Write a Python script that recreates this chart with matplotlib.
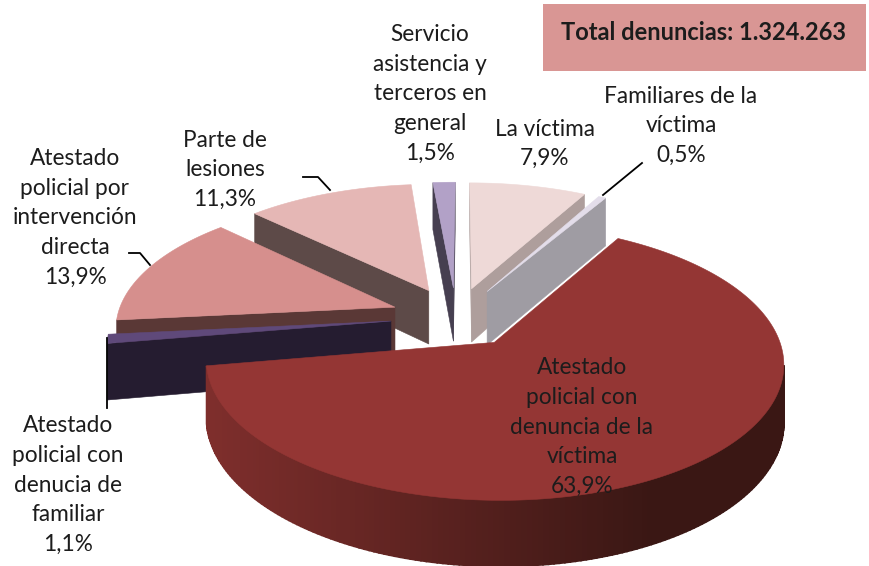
import numpy as np
import matplotlib
matplotlib.use("Agg")
import matplotlib.pyplot as plt
from matplotlib.patches import Polygon, Rectangle
from matplotlib.colors import to_rgb

plt.rcParams['font.family'] = ['Lato', 'DejaVu Sans']

# clockwise from 12 o'clock
names = ["La víctima", "Familiares de la\nvíctima",
         "Atestado\npolicial con\ndenuncia de la\nvíctima", "Atestado\npolicial con\ndenucia de\nfamiliar",
         "Atestado\npolicial por\nintervención\ndirecta", "Parte de\nlesiones",
         "Servicio\nasistencia y\nterceros en\ngeneral"]
shares = [7.9, 0.5, 63.9, 1.1, 13.9, 11.3, 1.5]
top_colors = ["#EED9D7", "#E3DDEA", "#943634", "#5F497A", "#D68F8D", "#E5B7B5", "#B2A1C7"]
side_colors = ["#AE9E9C", "#9F9CA3", "#7E2E2C", "#251C30", "#5A3836", "#5D4A48", "#463F50"]
label_x = [545, 681, 582, 68, 75, 225, 430]
label_y = [144, 126, 427, 485, 218, 170, 94]
total_text = "Total denuncias: 1.324.263"

# projection of the tilted pie, in pixels
cx, cy = 456, 317
rx, ry = 278, 128
persp = 0.14
height = 55
explode = 0.235


def project(X, Y, z=0.0):
    s = 1.0 / (1.0 + persp * np.asarray(Y))
    return cx + rx * np.asarray(X) * s, cy - ry * np.asarray(Y) * s - z * s


def area(pts):
    x, y = np.array(pts).T
    return np.sum(x * np.roll(y, -1) - np.roll(x, -1) * y)


fig = plt.figure(figsize=(8.7, 5.66), dpi=100)
ax = fig.add_axes([0, 0, 1, 1])
ax.set_xlim(0, 870)
ax.set_ylim(566, 0)
ax.axis('off')

edges = np.cumsum([0] + shares) / 100 * 2 * np.pi
mids = (edges[:-1] + edges[1:]) / 2
order = np.argsort(-np.cos(mids))

for i in order:
    a0, a1 = edges[i], edges[i + 1]
    ox, oy = explode * np.sin(mids[i]), explode * np.cos(mids[i])
    th = np.linspace(a0, a1, max(int((a1 - a0) * 60), 3))
    X = ox + np.sin(th)
    Y = oy + np.cos(th)
    tx, ty = project(X, Y, 0)
    bx, by = project(X, Y, -height)
    apx_t = project(ox, oy, 0)
    apx_b = project(ox, oy, -height)

    # cut faces
    for k, want in ((0, -1), (-1, 1)):
        quad = [apx_t, (tx[k], ty[k]), (bx[k], by[k]), apx_b]
        if np.sign(area(quad)) == want:
            ax.add_patch(Polygon(quad, fc=side_colors[i], ec=side_colors[i], lw=0.4))

    # rim, shaded across the big slice
    base = np.array(to_rgb(side_colors[i]))
    dark = np.array(to_rgb("#3A1714"))
    for j in range(len(th) - 1):
        quad = [(tx[j], ty[j]), (tx[j + 1], ty[j + 1]), (bx[j + 1], by[j + 1]), (bx[j], by[j])]
        if area(quad) < 0:
            c = base
            if shares[i] > 50:
                f = np.clip((tx[j] - 212) / 440, 0, 1)
                c = base + (dark - base) * f
            ax.add_patch(Polygon(quad, fc=c, ec=c, lw=1.2))

    top = np.column_stack([np.r_[apx_t[0], tx], np.r_[apx_t[1], ty]])
    ax.add_patch(Polygon(top, fc=top_colors[i], ec=top_colors[i], lw=0.4))

# leader lines
ax.plot([603, 642], [195, 163], c='k', lw=1.3)
ax.plot([303, 318, 330], [177, 177, 190], c='k', lw=1.3)
ax.plot([129, 140, 150], [253, 253, 265], c='k', lw=1.3)
ax.plot([107, 107], [338, 408], c='k', lw=1.3)

for name, v, x, y in zip(names, shares, label_x, label_y):
    pct = f"{v:.1f}".replace('.', ',') + "%"
    ax.text(x, y, name + "\n" + pct, ha='center', va='center', fontsize=16.3,
            color='#1c1c1c', linespacing=1.51)

ax.add_patch(Rectangle((543, 4), 323, 67, fc="#D99694", ec='none'))
ax.text(704, 32, total_text, ha='center', va='center', fontsize=17,
        fontweight='bold', color='#1c1c1c')

fig.savefig("out.png", dpi=100)
